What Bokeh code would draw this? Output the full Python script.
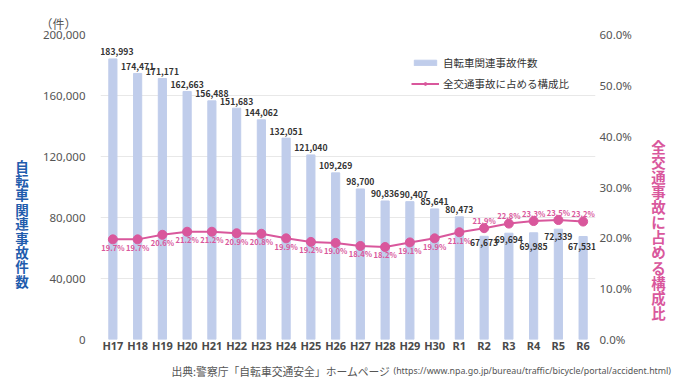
from bokeh.plotting import figure
from bokeh.layouts import column, row
from bokeh.models import (FactorRange, Range1d, LinearAxis, ColumnDataSource, Legend, LegendItem,
                          NumeralTickFormatter, PrintfTickFormatter, FixedTicker, LabelSet, Title)
from bokeh.embed import file_html
from bokeh.resources import INLINE
from bokeh.core.properties import value

years = ["H17", "H18", "H19", "H20", "H21", "H22", "H23", "H24", "H25", "H26",
         "H27", "H28", "H29", "H30", "R1", "R2", "R3", "R4", "R5", "R6"]
bicycle_accidents = [183993, 174471, 171171, 162663, 156488, 151683, 144062, 132051, 121040, 109269,
                     98700, 90836, 90407, 85641, 80473, 67673, 69694, 69985, 72339, 67531]
share_pct = [19.7, 19.7, 20.6, 21.2, 21.2, 20.9, 20.8, 19.9, 19.2, 19.0,
             18.4, 18.2, 19.1, 19.9, 21.1, 21.9, 22.8, 23.3, 23.5, 23.2]
left_ticks = [0, 40000, 80000, 120000, 160000, 200000]
right_ticks = [0, 10, 20, 30, 40, 50, 60]

# label placement styles (pixel offsets, positive = up / right)
count_label_dy = [7] * 15 + [-6, -6, -14, -7, -10]
count_label_dx = [4] + [0] * 11 + [4] + [0] * 6 + [-1]
pct_label_dy = [-8] * 15 + [8, 8, 8, 8, 8]

JP = "Noto Sans CJK JP"
NUM = "Noto Sans"
BAR_COLOR = "#c0cdeb"
LINE_COLOR = "#d9579c"
BLUE = "#1f5cad"
GRAY = "#555555"

W, H = 680, 382
LW, RW = 36, 32          # side title strips
TOPH = 360               # height of main row
FL, FT, FB, FR = 100, 34, 339, 595   # frame edges in page pixels

MW = W - LW - RW
p = figure(width=MW, height=TOPH, x_range=FactorRange(factors=years, range_padding=0),
           y_range=Range1d(0, 200000), output_backend="svg", toolbar_location=None,
           min_border_left=FL - LW, min_border_right=W - RW - FR, min_border_top=FT,
           min_border_bottom=TOPH - FB)
p.extra_y_ranges = {"pct": Range1d(0, 60)}
p.outline_line_color = None

src = ColumnDataSource(dict(
    year=years, cnt=bicycle_accidents, pct=share_pct,
    cnt_txt=[f"{v:,}" for v in bicycle_accidents],
    pct_txt=[f"{v:.1f}%" for v in share_pct],
    cdy=count_label_dy, cdx=count_label_dx, pdy=pct_label_dy,
))

bars = p.vbar(x="year", top="cnt", width=0.33, color=BAR_COLOR, source=src)
line = p.line(x="year", y="pct", y_range_name="pct", line_color=LINE_COLOR, line_width=2, source=src)
dots = p.scatter(x="year", y="pct", y_range_name="pct", size=9, fill_color=LINE_COLOR,
                 line_color=LINE_COLOR, source=src)

p.add_layout(LabelSet(x="year", y="cnt", text="cnt_txt", x_offset="cdx", y_offset="cdy", source=src,
                      text_align="center", text_baseline="middle", text_font=value(JP),
                      text_font_size=value("8.6px"), text_font_style=value("bold"),
                      text_color=value("#333333")))
p.add_layout(LabelSet(x="year", y="pct", text="pct_txt", y_offset="pdy", source=src,
                      y_range_name="pct", text_align="center", text_baseline="middle",
                      text_font=value(JP), text_font_size=value("7.6px"),
                      text_font_style=value("bold"), text_color=value(LINE_COLOR)))

# axes
ra = LinearAxis(y_range_name="pct", ticker=FixedTicker(ticks=right_ticks),
                formatter=PrintfTickFormatter(format="%.1f%%"))
p.add_layout(ra, "right")
p.yaxis[0].ticker = FixedTicker(ticks=left_ticks)
p.yaxis[0].formatter = NumeralTickFormatter(format="0,0")
for ax in [p.yaxis[0], p.xaxis[0], ra]:
    ax.axis_line_color = None
    ax.major_tick_line_color = None
    ax.minor_tick_line_color = None
    ax.major_tick_out = 0
    ax.major_tick_in = 0
    ax.minor_tick_out = 0
    ax.major_label_text_font = NUM
    ax.major_label_text_color = GRAY
    ax.major_label_text_font_size = "11.5px"
p.yaxis[0].major_label_standoff = 15
ra.major_label_standoff = 4
p.xaxis.major_label_text_font_size = "11px"
p.xaxis.major_label_text_font_style = "bold"
p.xaxis.major_label_text_color = "#4a4a4a"
p.xaxis.major_label_standoff = -2

p.xgrid.grid_line_color = None
p.ygrid.grid_line_color = "#e8e8e8"
p.ygrid.ticker = FixedTicker(ticks=left_ticks)

# unit label above the left axis
p.add_layout(Title(text="（件）", align="left", offset=40 - FL, standoff=6,
                   text_font=JP, text_font_size="12px", text_font_style="normal",
                   text_color=GRAY), "above")

# legend
legend = Legend(items=[LegendItem(label="自転車関連事故件数", renderers=[bars]),
                       LegendItem(label="全交通事故に占める構成比", renderers=[line, dots])],
                location=(311, 248), orientation="vertical",
                glyph_width=28, glyph_height=7, label_standoff=4, spacing=6,
                padding=0, margin=0, border_line_color=None, background_fill_alpha=0,
                label_text_font=JP, label_text_font_size="10.5px", label_text_color="#333333")
p.add_layout(legend, "center")


def strip(w, h):
    f = figure(frame_width=w, frame_height=h, x_range=Range1d(0, w), y_range=Range1d(h, 0),
               output_backend="svg", toolbar_location=None, x_axis_type=None,
               y_axis_type=None, min_border=0, title=None)
    f.outline_line_color = None
    f.xgrid.grid_line_color = None
    f.ygrid.grid_line_color = None
    return f


left_title = "自転車関連事故件数"
right_title = "全交通事故に占める構成比"

lf = strip(LW, TOPH)
lf.text(x=[21.5] * len(left_title), y=[131 + i * 14.4 for i in range(len(left_title))],
        text=list(left_title), text_align="center", text_baseline="middle",
        text_font=value(JP), text_font_size="13.5px", text_font_style="bold", text_color=BLUE)

rf = strip(RW, TOPH)
rf.text(x=[658 - (W - RW)] * len(right_title),
        y=[111.7 + i * 15.1 for i in range(len(right_title))],
        text=list(right_title), text_align="center", text_baseline="middle",
        text_font=value(JP), text_font_size="14.5px", text_font_style="bold", text_color=LINE_COLOR)

ff = strip(W, H - TOPH)
ff.text(x=[171], y=[370 - TOPH], text=["出典:警察庁「自転車交通安全」ホームページ"],
        text_baseline="middle", text_font=value(JP), text_font_size="10.8px", text_color=GRAY)
ff.text(x=[393], y=[370 - TOPH],
        text=["(https://www.npa.go.jp/bureau/traffic/bicycle/portal/accident.html)"],
        text_baseline="middle", text_font=value(NUM), text_font_size="8.85px", text_color=GRAY)

layout = column(row(lf, p, rf), ff)
open("out.html", "w").write(file_html(layout, INLINE))
